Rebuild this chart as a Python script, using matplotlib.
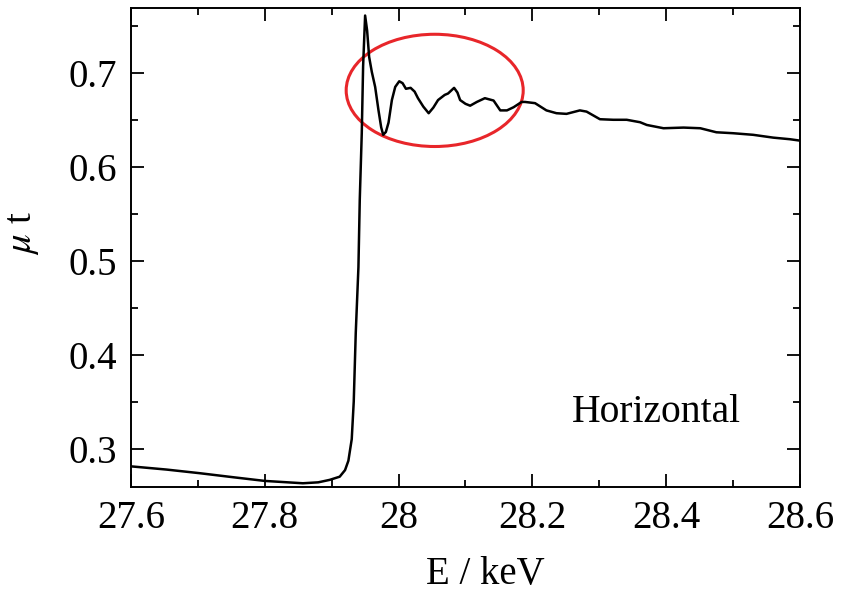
"""XANES spectrum, horizontal polarisation."""

import matplotlib

matplotlib.use("Agg")
import matplotlib.pyplot as plt
from matplotlib.patches import Ellipse
from matplotlib.ticker import FormatStrFormatter, MultipleLocator

# energy (keV) and absorbance
energy = [
    27.600, 27.653, 27.703, 27.753, 27.800, 27.857, 27.880, 27.897, 27.912,
    27.920, 27.925, 27.930, 27.933, 27.936, 27.940, 27.942, 27.945, 27.947,
    27.950, 27.953, 27.956, 27.960, 27.965, 27.970, 27.974, 27.977, 27.981,
    27.985, 27.990, 27.995, 28.001, 28.006, 28.011, 28.018, 28.024, 28.029,
    28.037, 28.045, 28.052, 28.059, 28.069, 28.074, 28.083, 28.088, 28.092,
    28.100, 28.107, 28.117, 28.129, 28.142, 28.152, 28.162, 28.172, 28.184,
    28.189, 28.204, 28.221, 28.236, 28.251, 28.271, 28.281, 28.301, 28.321,
    28.341, 28.361, 28.371, 28.396, 28.426, 28.451, 28.475, 28.500, 28.530,
    28.560, 28.585, 28.600,
]
mu_t = [
    0.281, 0.2776, 0.2737, 0.2694, 0.2655, 0.263, 0.264, 0.2666, 0.270,
    0.277, 0.287, 0.310, 0.350, 0.423, 0.493, 0.565, 0.636, 0.707,
    0.761, 0.745, 0.717, 0.701, 0.685, 0.660, 0.642, 0.634, 0.637,
    0.647, 0.671, 0.685, 0.691, 0.689, 0.683, 0.684, 0.680, 0.673,
    0.664, 0.657, 0.663, 0.671, 0.6765, 0.678, 0.684, 0.679, 0.671,
    0.667, 0.665, 0.669, 0.673, 0.6705, 0.660, 0.660, 0.6634, 0.669,
    0.669, 0.6677, 0.660, 0.657, 0.6563, 0.660, 0.6587, 0.6506, 0.650,
    0.650, 0.6474, 0.6445, 0.641, 0.6417, 0.641, 0.6367, 0.6357, 0.634,
    0.631, 0.6293, 0.6278,
]

# highlighted EXAFS region: centre, width, height (data units)
ring_centre = (28.054, 0.6813)
ring_size = (0.2646, 0.1195)

plt.rcParams["font.family"] = ["Liberation Serif", "DejaVu Serif"]
plt.rcParams["mathtext.fontset"] = "stix"
plt.rcParams["font.size"] = 28

fig = plt.figure(figsize=(8.46, 5.94), dpi=100)
ax = fig.add_axes([0.1548, 0.1801, 0.7908, 0.8064])

ax.plot(energy, mu_t, color="black", lw=1.8)
ax.add_patch(Ellipse(ring_centre, ring_size[0], ring_size[1],
                     fill=False, edgecolor="#e8262a", lw=2.2))
ax.text(28.259, 0.3384, "Horizontal", va="center", ha="left", fontsize=28.5)

ax.set_xlim(27.6, 28.6)
ax.set_ylim(0.259, 0.769)
ax.xaxis.set_major_locator(MultipleLocator(0.2))
ax.xaxis.set_minor_locator(MultipleLocator(0.1))
ax.yaxis.set_major_locator(MultipleLocator(0.1))
ax.yaxis.set_minor_locator(MultipleLocator(0.05))
ax.xaxis.set_major_formatter(FormatStrFormatter("%g"))
ax.yaxis.set_major_formatter(FormatStrFormatter("%g"))

ax.tick_params(which="both", direction="in", top=True, right=True, width=1.3)
ax.tick_params(which="major", length=9.5)
ax.tick_params(which="minor", length=5)
ax.tick_params(axis="x", pad=9)
ax.tick_params(axis="y", pad=10)
for s in ax.spines.values():
    s.set_linewidth(1.4)

ax.set_xlabel("E / keV")
ax.set_ylabel(r"$\mu$ t")
ax.xaxis.set_label_coords(0.529, -0.145)
ax.yaxis.set_label_coords(-0.135, 0.53)

fig.savefig("out.png", dpi=100)
